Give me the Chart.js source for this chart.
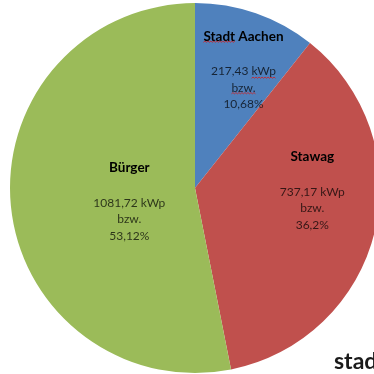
<!DOCTYPE html>
<html>
<head>
<meta charset="utf-8">
<script src="https://cdn.jsdelivr.net/npm/chart.js@4/dist/chart.umd.min.js"></script>
<style>
  html, body { margin: 0; padding: 0; background: #fff; overflow: hidden; width: 374px; height: 374px; }
  #wrap { position: relative; width: 374px; height: 374px; overflow: hidden; }
  #pieChart { position: absolute; left: 0; top: 0; }
  #logo { position: absolute; left: 334px; top: 346px; font: bold 23px Lato, sans-serif; color: #1b1b1b; white-space: nowrap; }
</style>
</head>
<body>
<div id="wrap">
  <canvas id="pieChart" width="390" height="380"></canvas>
  <div id="logo">stadt</div>
</div>
<script>
// Anlagenleistung nach Betreiber (kWp)
const categories = ['Stadt Aachen', 'Stawag', 'Bürger'];
const powerKwp = [217.43, 737.17, 1081.72];
const sliceColors = ['#4F81BD', '#C0504D', '#9BBB59'];

// where each label block sits, in units of the pie radius from the centre
const labelAnchors = [[0.262, -0.82], [0.634, -0.169], [-0.355, -0.109]];

function fmt(n) {
    return String(parseFloat(n.toFixed(2))).replace('.', ',');
}

function squiggle(ctx, x0, x1, y) {
    ctx.save();
    ctx.strokeStyle = '#d02020';
    ctx.lineWidth = 0.8;
    ctx.beginPath();
    ctx.moveTo(x0, y);
    let up = true;
    for (let x = x0 + 1.5; x <= x1; x += 1.5) {
        ctx.lineTo(x, up ? y - 1.2 : y);
        up = !up;
    }
    ctx.stroke();
    ctx.restore();
}

const sliceLabels = {
    id: 'sliceLabels',
    afterDatasetsDraw(chart) {
        const ctx = chart.ctx;
        const meta = chart.getDatasetMeta(0);
        const total = powerKwp.reduce((a, b) => a + b, 0);
        meta.data.forEach((arc, i) => {
            const r = arc.outerRadius;
            const x = arc.x + labelAnchors[i][0] * r;
            const y = arc.y + labelAnchors[i][1] * r;
            const lines = [
                fmt(powerKwp[i]) + ' kWp',
                'bzw.',
                fmt(powerKwp[i] / total * 100) + '%'
            ];
            ctx.save();
            ctx.textAlign = 'center';
            ctx.textBaseline = 'middle';
            ctx.fillStyle = '#000';
            ctx.font = 'bold 13.5px Lato, sans-serif';
            ctx.fillText(categories[i], x, y);
            const titleW = ctx.measureText(categories[i]).width;
            ctx.fillStyle = 'rgba(0,0,0,0.72)';
            ctx.font = '12px Lato, sans-serif';
            const ly = [y + 35, y + 51.5, y + 68];
            lines.forEach((t, k) => ctx.fillText(t, x, ly[k]));
            // spell-check marks in the Stadt Aachen box
            if (i === 0) {
                ctx.font = 'bold 13.5px Lato, sans-serif';
                const sw = ctx.measureText('Stadt').width;
                squiggle(ctx, x - titleW / 2, x - titleW / 2 + sw, y + 6);
                ctx.font = '12px Lato, sans-serif';
                const w0 = ctx.measureText(lines[0]).width;
                const kw = ctx.measureText('kWp').width;
                squiggle(ctx, x + w0 / 2 - kw, x + w0 / 2, ly[0] + 7);
                const bw = ctx.measureText('bzw.').width;
                squiggle(ctx, x - bw / 2, x + bw / 2, ly[1] + 6);
            }
            ctx.restore();
        });
    }
};

document.addEventListener('DOMContentLoaded', function() {
    const ctx = document.getElementById('pieChart').getContext('2d');
    new Chart(ctx, {
        type: 'pie',
        data: {
            labels: categories,
            datasets: [{
                data: powerKwp,
                backgroundColor: sliceColors,
                borderWidth: 0
            }]
        },
        options: {
            responsive: false,
            animation: false,
            layout: {
                padding: { left: 10, top: 3, right: 10, bottom: 7 }
            },
            plugins: {
                legend: { display: false },
                tooltip: { enabled: false }
            }
        },
        plugins: [sliceLabels]
    });
});
</script>
</body>
</html>
